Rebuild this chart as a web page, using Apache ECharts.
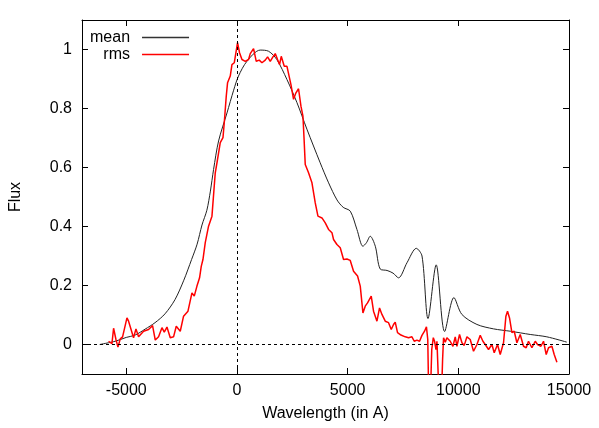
<!DOCTYPE html>
<html>
<head>
<meta charset="utf-8">
<script src="https://cdn.jsdelivr.net/npm/echarts@6/dist/echarts.min.js"></script>
<style>
html,body{margin:0;padding:0;background:#fff;}
#chart{width:599px;height:428px;}
</style>
</head>
<body>
<div id="chart"></div>
<script>
// ---- data ----
var xTicks = [-5000, 0, 5000, 10000, 15000];
var yTicks = [0, 0.2, 0.4, 0.6, 0.8, 1];

var meanX = [-6200,-5500,-5000,-4600,-4150,-3700,-3250,-2800,-2400,-2050,-1800,-1580,-1360,-1200,-1057,-830,-450,-150,70,450,1050,1430,1800,2260,2710,3160,3760,4140,4520,4800,5120,5420,5690,5850,6020,6250,6470,6780,7050,7300,7680,8100,8360,8630,9000,9380,9800,10160,10840,11590,12350,13250,14000,14900];
var meanY = [0,0.011,0.024,0.032,0.052,0.074,0.104,0.152,0.218,0.288,0.34,0.405,0.455,0.52,0.593,0.69,0.785,0.862,0.91,0.96,0.998,0.994,0.966,0.898,0.82,0.73,0.616,0.548,0.49,0.465,0.452,0.39,0.333,0.345,0.367,0.333,0.256,0.251,0.242,0.226,0.277,0.326,0.3,0.088,0.27,0.044,0.159,0.102,0.068,0.053,0.045,0.034,0.026,0.008];

var rmsX = [-5800,-5723,-5647,-5573,-5466,-5376,-5271,-5167,-4969,-4896,-4780,-4671,-4562,-4445,-4219,-3993,-3812,-3690,-3541,-3388,-3284,-3162,-3013,-2864,-2742,-2561,-2412,-2213,-2033,-1929,-1807,-1689,-1613,-1536,-1432,-1283,-1129,-980,-903,-754,-632,-574,-483,-425,-303,-226,-122,-45,27,117,226,375,524,601,750,872,1007,1129,1278,1384,1504,1626,1730,1834,1924,2001,2137,2259,2439,2557,2665,2782,2891,2981,3030,3085,3234,3388,3537,3659,3840,3989,4138,4291,4364,4517,4666,4815,4969,5118,5267,5448,5570,5691,5795,5899,6066,6170,6324,6441,6550,6699,6848,6970,7074,7150,7254,7408,7602,7751,7905,8009,8131,8249,8357,8474,8560,8620,8690,8760,8800,8870,8930,8990,9035,9190,9290,9333,9410,9484,9635,9757,9861,9937,10055,10163,10267,10389,10538,10687,10841,10990,11112,11216,11365,11518,11622,11771,11893,12042,12150,12223,12313,12421,12525,12647,12796,12945,13067,13171,13324,13474,13578,13732,13849,13971,14075,14228,14332,14454];
var rmsY = [0.011,0.008,0.003,0.055,0.017,-0.009,0.019,0.026,0.09,0.079,0.05,0.023,0.053,0.026,0.045,0.051,0.064,0.015,0.026,0.057,0.042,0.059,0.023,0.026,0.062,0.045,0.096,0.113,0.175,0.164,0.198,0.226,0.265,0.288,0.345,0.401,0.435,0.582,0.616,0.684,0.701,0.751,0.842,0.887,0.91,0.949,0.955,0.949,1.023,0.989,0.966,0.96,0.966,0.986,1.003,0.96,0.964,0.955,0.964,0.975,0.96,0.975,0.986,0.966,0.949,0.977,0.943,0.943,0.881,0.831,0.853,0.867,0.808,0.774,0.7,0.61,0.582,0.548,0.48,0.435,0.429,0.412,0.39,0.379,0.356,0.339,0.328,0.288,0.29,0.285,0.248,0.232,0.198,0.107,0.13,0.141,0.164,0.113,0.079,0.124,0.102,0.079,0.074,0.051,0.068,0.076,0.04,0.032,0.026,0.023,0.026,0.011,0.015,0.011,0.031,0.045,0.06,0.017,-0.3,-0.12,-0.017,0.023,0.01,-0.017,0.011,-0.3,-0.05,0.023,0.008,0.023,0.011,-0.006,0.026,-0.006,0.034,0.006,-0.003,0.026,0.017,-0.023,0,0.031,0.011,0,-0.017,0,-0.028,0,-0.034,0.006,0.096,0.113,0.09,0.04,0.045,0.006,0.034,-0.006,-0.011,0.011,-0.011,0.011,0,-0.006,0.011,-0.034,-0.011,-0.006,-0.034,-0.06];

var seriesNames = ['mean', 'rms'];
var xName = 'Wavelength (in A)';
var yName = 'Flux';

function pairs(xs, ys) { return xs.map(function (x, i) { return [x, ys[i]]; }); }

var FONT = 'Liberation Sans, Arial, sans-serif';
var FS = 16;

var chart = echarts.init(document.getElementById('chart'), null, {renderer: 'canvas'});

function xAxisDef(pos, showLabels) {
  return {
    type: 'value', position: pos, min: -7000, max: 15000,
    name: showLabels ? xName : '', nameLocation: 'middle', nameGap: 32,
    nameTextStyle: {fontFamily: FONT, fontSize: FS, color: '#000'},
    axisLine: {show: true, onZero: false, lineStyle: {color: '#000', width: 1}},
    axisTick: {show: true, inside: true, length: 6, customValues: xTicks, lineStyle: {color: '#000'}},
    axisLabel: {show: showLabels, customValues: xTicks, margin: 9, fontFamily: FONT, fontSize: FS, color: '#000',
      formatter: function (v) { return String(Math.round(v)); }},
    splitLine: {show: false}
  };
}
function yAxisDef(pos, showLabels) {
  return {
    type: 'value', position: pos, min: -0.1, max: 1.1,
    name: showLabels ? yName : '', nameLocation: 'middle', nameGap: 58, nameRotate: 90,
    nameTextStyle: {fontFamily: FONT, fontSize: FS, color: '#000'},
    axisLine: {show: true, onZero: false, lineStyle: {color: '#000', width: 1}},
    axisTick: {show: true, inside: true, length: 6, customValues: yTicks, lineStyle: {color: '#000'}},
    axisLabel: {show: showLabels, customValues: yTicks, margin: 10, fontFamily: FONT, fontSize: FS, color: '#000',
      formatter: function (v) { return String(Math.round(v * 10) / 10); }},
    splitLine: {show: false}
  };
}

chart.setOption({
  animation: false,
  backgroundColor: '#fff',
  grid: {left: 81, right: 30, top: 20, bottom: 54, containLabel: false},
  legend: {
    orient: 'vertical', align: 'right', left: 90, top: 29, padding: 0,
    itemGap: 0, itemWidth: 47, itemHeight: 1.5, icon: 'rect',
    textStyle: {fontFamily: FONT, fontSize: FS, color: '#000', lineHeight: 17, padding: [0, 7, 0, 0]},
    data: seriesNames
  },
  xAxis: [xAxisDef('bottom', true), xAxisDef('top', false)],
  yAxis: [yAxisDef('left', true), yAxisDef('right', false)],
  series: [
    {
      name: seriesNames[0], type: 'line', xAxisIndex: 0, yAxisIndex: 0,
      data: pairs(meanX, meanY), smooth: 0.3, symbol: 'none', clip: true,
      lineStyle: {color: '#222', width: 1}, itemStyle: {color: '#333'},
      markLine: {
        silent: true, symbol: ['none', 'none'], label: {show: false},
        lineStyle: {color: '#000', width: 1, type: [3, 3]},
        data: [{xAxis: 0}, {yAxis: 0}]
      },
      z: 3
    },
    {
      name: seriesNames[1], type: 'line', xAxisIndex: 0, yAxisIndex: 0,
      data: pairs(rmsX, rmsY), symbol: 'none', clip: true,
      lineStyle: {color: '#ff0000', width: 1.5}, itemStyle: {color: '#ff0000'},
      z: 4
    }
  ]
});
</script>
</body>
</html>
